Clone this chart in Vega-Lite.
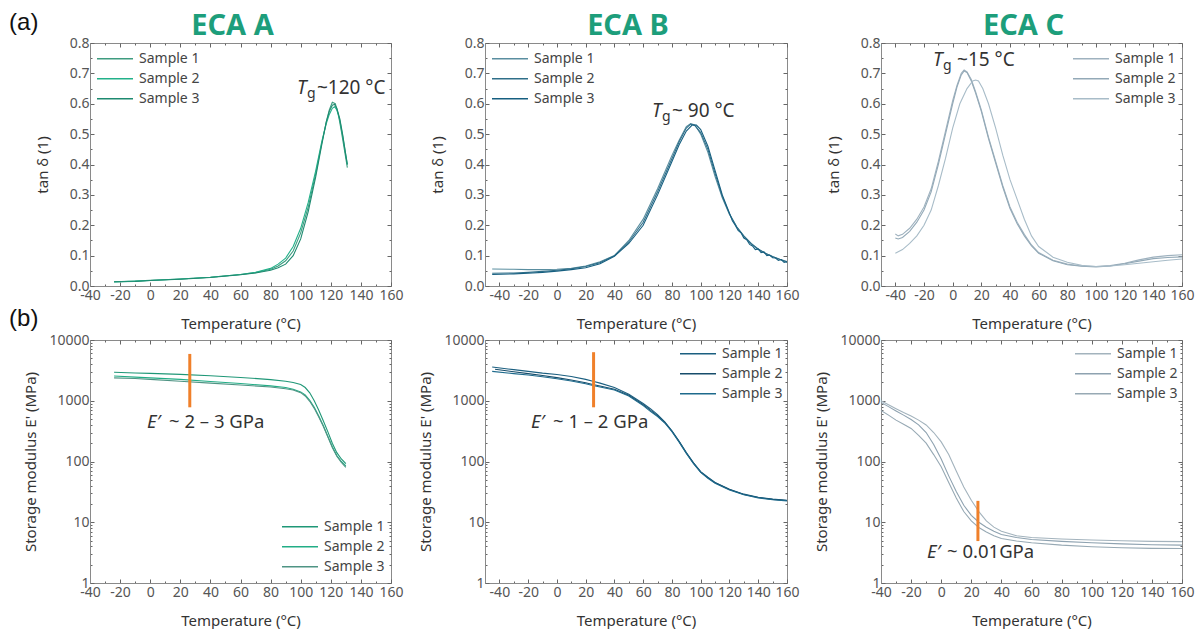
{
 "$schema": "https://vega.github.io/schema/vega-lite/v6.json",
 "background": "white",
 "padding": {"left": 8, "top": 10, "right": 0, "bottom": 0},
 "bounds": "flush",
 "columns": 3,
 "spacing": {"row": 54, "column": 94},
 "datasets": {
  "aTan": [
   {"s":"Sample 1","t":-24,"v":0.014},{"s":"Sample 1","t":-10,"v":0.016},{"s":"Sample 1","t":0,"v":0.019},{"s":"Sample 1","t":20,"v":0.023},{"s":"Sample 1","t":40,"v":0.029},{"s":"Sample 1","t":60,"v":0.038},{"s":"Sample 1","t":70,"v":0.044},{"s":"Sample 1","t":80,"v":0.055},{"s":"Sample 1","t":85,"v":0.066},{"s":"Sample 1","t":90,"v":0.083},{"s":"Sample 1","t":95,"v":0.115},{"s":"Sample 1","t":100,"v":0.175},{"s":"Sample 1","t":105,"v":0.26},{"s":"Sample 1","t":110,"v":0.37},{"s":"Sample 1","t":114,"v":0.47},{"s":"Sample 1","t":117,"v":0.54},{"s":"Sample 1","t":119,"v":0.58},{"s":"Sample 1","t":121,"v":0.605},{"s":"Sample 1","t":123,"v":0.6},{"s":"Sample 1","t":125,"v":0.565},{"s":"Sample 1","t":127,"v":0.51},{"s":"Sample 1","t":129,"v":0.45},{"s":"Sample 1","t":131,"v":0.39},
   {"s":"Sample 2","t":-24,"v":0.013},{"s":"Sample 2","t":-10,"v":0.016},{"s":"Sample 2","t":0,"v":0.018},{"s":"Sample 2","t":20,"v":0.023},{"s":"Sample 2","t":40,"v":0.029},{"s":"Sample 2","t":60,"v":0.038},{"s":"Sample 2","t":70,"v":0.045},{"s":"Sample 2","t":80,"v":0.058},{"s":"Sample 2","t":85,"v":0.072},{"s":"Sample 2","t":90,"v":0.092},{"s":"Sample 2","t":95,"v":0.13},{"s":"Sample 2","t":100,"v":0.19},{"s":"Sample 2","t":105,"v":0.275},{"s":"Sample 2","t":110,"v":0.38},{"s":"Sample 2","t":114,"v":0.475},{"s":"Sample 2","t":117,"v":0.535},{"s":"Sample 2","t":119,"v":0.565},{"s":"Sample 2","t":121,"v":0.585},{"s":"Sample 2","t":122.5,"v":0.59},{"s":"Sample 2","t":124,"v":0.58},{"s":"Sample 2","t":126,"v":0.545},{"s":"Sample 2","t":128,"v":0.49},{"s":"Sample 2","t":130,"v":0.43},{"s":"Sample 2","t":131,"v":0.4},
   {"s":"Sample 3","t":-24,"v":0.014},{"s":"Sample 3","t":-10,"v":0.015},{"s":"Sample 3","t":0,"v":0.018},{"s":"Sample 3","t":20,"v":0.022},{"s":"Sample 3","t":40,"v":0.028},{"s":"Sample 3","t":60,"v":0.037},{"s":"Sample 3","t":70,"v":0.043},{"s":"Sample 3","t":80,"v":0.052},{"s":"Sample 3","t":85,"v":0.06},{"s":"Sample 3","t":90,"v":0.072},{"s":"Sample 3","t":95,"v":0.1},{"s":"Sample 3","t":100,"v":0.155},{"s":"Sample 3","t":105,"v":0.245},{"s":"Sample 3","t":110,"v":0.36},{"s":"Sample 3","t":114,"v":0.465},{"s":"Sample 3","t":117,"v":0.54},{"s":"Sample 3","t":119,"v":0.575},{"s":"Sample 3","t":121,"v":0.595},{"s":"Sample 3","t":122.5,"v":0.598},{"s":"Sample 3","t":124,"v":0.585},{"s":"Sample 3","t":126,"v":0.55},{"s":"Sample 3","t":128,"v":0.495},{"s":"Sample 3","t":130,"v":0.43},{"s":"Sample 3","t":131,"v":0.4}
  ],
  "bTan": [
   {"s":"Sample 1","t":-45,"v":0.056},{"s":"Sample 1","t":-30,"v":0.055},{"s":"Sample 1","t":-20,"v":0.054},{"s":"Sample 1","t":-10,"v":0.054},{"s":"Sample 1","t":0,"v":0.055},{"s":"Sample 1","t":10,"v":0.058},{"s":"Sample 1","t":20,"v":0.066},{"s":"Sample 1","t":30,"v":0.08},{"s":"Sample 1","t":40,"v":0.1},{"s":"Sample 1","t":50,"v":0.15},{"s":"Sample 1","t":60,"v":0.22},{"s":"Sample 1","t":70,"v":0.32},{"s":"Sample 1","t":80,"v":0.43},{"s":"Sample 1","t":85,"v":0.48},{"s":"Sample 1","t":90,"v":0.525},{"s":"Sample 1","t":93,"v":0.535},{"s":"Sample 1","t":96,"v":0.53},{"s":"Sample 1","t":100,"v":0.5},{"s":"Sample 1","t":105,"v":0.44},{"s":"Sample 1","t":110,"v":0.36},{"s":"Sample 1","t":115,"v":0.29},{"s":"Sample 1","t":120,"v":0.235},{"s":"Sample 1","t":125,"v":0.195},{"s":"Sample 1","t":130,"v":0.163},{"s":"Sample 1","t":135,"v":0.14},{"s":"Sample 1","t":140,"v":0.12},{"s":"Sample 1","t":145,"v":0.107},{"s":"Sample 1","t":150,"v":0.096},{"s":"Sample 1","t":155,"v":0.087},{"s":"Sample 1","t":160,"v":0.078},{"s":"Sample 1","t":164,"v":0.073},
   {"s":"Sample 2","t":-45,"v":0.042},{"s":"Sample 2","t":-30,"v":0.043},{"s":"Sample 2","t":-20,"v":0.045},{"s":"Sample 2","t":-10,"v":0.048},{"s":"Sample 2","t":0,"v":0.052},{"s":"Sample 2","t":10,"v":0.057},{"s":"Sample 2","t":20,"v":0.064},{"s":"Sample 2","t":30,"v":0.077},{"s":"Sample 2","t":40,"v":0.1},{"s":"Sample 2","t":50,"v":0.145},{"s":"Sample 2","t":60,"v":0.21},{"s":"Sample 2","t":70,"v":0.31},{"s":"Sample 2","t":80,"v":0.42},{"s":"Sample 2","t":85,"v":0.475},{"s":"Sample 2","t":90,"v":0.52},{"s":"Sample 2","t":93,"v":0.533},{"s":"Sample 2","t":96,"v":0.528},{"s":"Sample 2","t":100,"v":0.505},{"s":"Sample 2","t":105,"v":0.45},{"s":"Sample 2","t":110,"v":0.37},{"s":"Sample 2","t":115,"v":0.295},{"s":"Sample 2","t":120,"v":0.238},{"s":"Sample 2","t":125,"v":0.195},{"s":"Sample 2","t":130,"v":0.165},{"s":"Sample 2","t":135,"v":0.14},{"s":"Sample 2","t":140,"v":0.122},{"s":"Sample 2","t":145,"v":0.108},{"s":"Sample 2","t":150,"v":0.097},{"s":"Sample 2","t":155,"v":0.088},{"s":"Sample 2","t":160,"v":0.08},{"s":"Sample 2","t":164,"v":0.074},
   {"s":"Sample 3","t":-45,"v":0.038},{"s":"Sample 3","t":-30,"v":0.04},{"s":"Sample 3","t":-20,"v":0.042},{"s":"Sample 3","t":-10,"v":0.045},{"s":"Sample 3","t":0,"v":0.049},{"s":"Sample 3","t":10,"v":0.054},{"s":"Sample 3","t":20,"v":0.06},{"s":"Sample 3","t":30,"v":0.073},{"s":"Sample 3","t":40,"v":0.098},{"s":"Sample 3","t":50,"v":0.14},{"s":"Sample 3","t":60,"v":0.2},{"s":"Sample 3","t":70,"v":0.3},{"s":"Sample 3","t":80,"v":0.41},{"s":"Sample 3","t":85,"v":0.465},{"s":"Sample 3","t":90,"v":0.51},{"s":"Sample 3","t":94,"v":0.53},{"s":"Sample 3","t":97,"v":0.53},{"s":"Sample 3","t":100,"v":0.515},{"s":"Sample 3","t":105,"v":0.46},{"s":"Sample 3","t":110,"v":0.38},{"s":"Sample 3","t":115,"v":0.3},{"s":"Sample 3","t":120,"v":0.24},{"s":"Sample 3","t":122,"v":0.215},{"s":"Sample 3","t":124,"v":0.2},{"s":"Sample 3","t":126,"v":0.183},{"s":"Sample 3","t":128,"v":0.175},{"s":"Sample 3","t":130,"v":0.158},{"s":"Sample 3","t":132,"v":0.152},{"s":"Sample 3","t":134,"v":0.137},{"s":"Sample 3","t":136,"v":0.132},{"s":"Sample 3","t":138,"v":0.12},{"s":"Sample 3","t":140,"v":0.122},{"s":"Sample 3","t":142,"v":0.11},{"s":"Sample 3","t":144,"v":0.112},{"s":"Sample 3","t":146,"v":0.1},{"s":"Sample 3","t":148,"v":0.102},{"s":"Sample 3","t":150,"v":0.093},{"s":"Sample 3","t":152,"v":0.092},{"s":"Sample 3","t":154,"v":0.084},{"s":"Sample 3","t":156,"v":0.087},{"s":"Sample 3","t":158,"v":0.078},{"s":"Sample 3","t":160,"v":0.08},{"s":"Sample 3","t":162,"v":0.071},{"s":"Sample 3","t":164,"v":0.074}
  ],
  "cTan": [
   {"s":"Sample 1","t":-40,"v":0.171},{"s":"Sample 1","t":-38,"v":0.165},{"s":"Sample 1","t":-35,"v":0.17},{"s":"Sample 1","t":-30,"v":0.19},{"s":"Sample 1","t":-25,"v":0.22},{"s":"Sample 1","t":-20,"v":0.26},{"s":"Sample 1","t":-15,"v":0.32},{"s":"Sample 1","t":-10,"v":0.41},{"s":"Sample 1","t":-5,"v":0.51},{"s":"Sample 1","t":0,"v":0.61},{"s":"Sample 1","t":3,"v":0.66},{"s":"Sample 1","t":6,"v":0.7},{"s":"Sample 1","t":8,"v":0.711},{"s":"Sample 1","t":10,"v":0.705},{"s":"Sample 1","t":13,"v":0.68},{"s":"Sample 1","t":16,"v":0.64},{"s":"Sample 1","t":20,"v":0.58},{"s":"Sample 1","t":25,"v":0.49},{"s":"Sample 1","t":30,"v":0.41},{"s":"Sample 1","t":35,"v":0.33},{"s":"Sample 1","t":40,"v":0.26},{"s":"Sample 1","t":45,"v":0.21},{"s":"Sample 1","t":50,"v":0.17},{"s":"Sample 1","t":55,"v":0.135},{"s":"Sample 1","t":60,"v":0.11},{"s":"Sample 1","t":70,"v":0.085},{"s":"Sample 1","t":80,"v":0.072},{"s":"Sample 1","t":90,"v":0.066},{"s":"Sample 1","t":100,"v":0.064},{"s":"Sample 1","t":110,"v":0.067},{"s":"Sample 1","t":120,"v":0.075},{"s":"Sample 1","t":130,"v":0.086},{"s":"Sample 1","t":140,"v":0.095},{"s":"Sample 1","t":150,"v":0.1},{"s":"Sample 1","t":160,"v":0.103},
   {"s":"Sample 2","t":-40,"v":0.158},{"s":"Sample 2","t":-38,"v":0.155},{"s":"Sample 2","t":-35,"v":0.16},{"s":"Sample 2","t":-30,"v":0.18},{"s":"Sample 2","t":-25,"v":0.21},{"s":"Sample 2","t":-20,"v":0.25},{"s":"Sample 2","t":-15,"v":0.31},{"s":"Sample 2","t":-10,"v":0.4},{"s":"Sample 2","t":-5,"v":0.5},{"s":"Sample 2","t":0,"v":0.6},{"s":"Sample 2","t":3,"v":0.655},{"s":"Sample 2","t":6,"v":0.695},{"s":"Sample 2","t":8,"v":0.708},{"s":"Sample 2","t":10,"v":0.703},{"s":"Sample 2","t":13,"v":0.675},{"s":"Sample 2","t":16,"v":0.635},{"s":"Sample 2","t":20,"v":0.575},{"s":"Sample 2","t":25,"v":0.485},{"s":"Sample 2","t":30,"v":0.405},{"s":"Sample 2","t":35,"v":0.325},{"s":"Sample 2","t":40,"v":0.255},{"s":"Sample 2","t":45,"v":0.205},{"s":"Sample 2","t":50,"v":0.165},{"s":"Sample 2","t":55,"v":0.132},{"s":"Sample 2","t":60,"v":0.108},{"s":"Sample 2","t":70,"v":0.083},{"s":"Sample 2","t":80,"v":0.07},{"s":"Sample 2","t":90,"v":0.065},{"s":"Sample 2","t":100,"v":0.063},{"s":"Sample 2","t":110,"v":0.066},{"s":"Sample 2","t":120,"v":0.073},{"s":"Sample 2","t":130,"v":0.082},{"s":"Sample 2","t":140,"v":0.09},{"s":"Sample 2","t":150,"v":0.094},{"s":"Sample 2","t":160,"v":0.096},
   {"s":"Sample 3","t":-40,"v":0.108},{"s":"Sample 3","t":-35,"v":0.12},{"s":"Sample 3","t":-30,"v":0.14},{"s":"Sample 3","t":-25,"v":0.165},{"s":"Sample 3","t":-20,"v":0.2},{"s":"Sample 3","t":-15,"v":0.25},{"s":"Sample 3","t":-10,"v":0.33},{"s":"Sample 3","t":-5,"v":0.42},{"s":"Sample 3","t":0,"v":0.52},{"s":"Sample 3","t":5,"v":0.6},{"s":"Sample 3","t":10,"v":0.65},{"s":"Sample 3","t":14,"v":0.675},{"s":"Sample 3","t":16,"v":0.678},{"s":"Sample 3","t":18,"v":0.675},{"s":"Sample 3","t":21,"v":0.65},{"s":"Sample 3","t":25,"v":0.6},{"s":"Sample 3","t":30,"v":0.52},{"s":"Sample 3","t":35,"v":0.43},{"s":"Sample 3","t":40,"v":0.35},{"s":"Sample 3","t":45,"v":0.285},{"s":"Sample 3","t":50,"v":0.22},{"s":"Sample 3","t":55,"v":0.165},{"s":"Sample 3","t":60,"v":0.13},{"s":"Sample 3","t":70,"v":0.095},{"s":"Sample 3","t":80,"v":0.078},{"s":"Sample 3","t":90,"v":0.068},{"s":"Sample 3","t":100,"v":0.064},{"s":"Sample 3","t":110,"v":0.066},{"s":"Sample 3","t":120,"v":0.07},{"s":"Sample 3","t":130,"v":0.075},{"s":"Sample 3","t":140,"v":0.08},{"s":"Sample 3","t":150,"v":0.085},{"s":"Sample 3","t":160,"v":0.089}
  ],
  "aMod": [
   {"s":"Sample 1","t":-24,"v":2950},{"s":"Sample 1","t":-10,"v":2870},{"s":"Sample 1","t":0,"v":2820},{"s":"Sample 1","t":20,"v":2720},{"s":"Sample 1","t":40,"v":2580},{"s":"Sample 1","t":60,"v":2420},{"s":"Sample 1","t":80,"v":2230},{"s":"Sample 1","t":90,"v":2100},{"s":"Sample 1","t":95,"v":2000},{"s":"Sample 1","t":100,"v":1850},{"s":"Sample 1","t":103,"v":1650},{"s":"Sample 1","t":106,"v":1350},{"s":"Sample 1","t":109,"v":1000},{"s":"Sample 1","t":112,"v":700},{"s":"Sample 1","t":115,"v":470},{"s":"Sample 1","t":118,"v":310},{"s":"Sample 1","t":121,"v":200},{"s":"Sample 1","t":124,"v":140},{"s":"Sample 1","t":127,"v":110},{"s":"Sample 1","t":130,"v":92},
   {"s":"Sample 2","t":-24,"v":2550},{"s":"Sample 2","t":-10,"v":2450},{"s":"Sample 2","t":0,"v":2380},{"s":"Sample 2","t":20,"v":2250},{"s":"Sample 2","t":40,"v":2080},{"s":"Sample 2","t":60,"v":1920},{"s":"Sample 2","t":80,"v":1760},{"s":"Sample 2","t":90,"v":1650},{"s":"Sample 2","t":95,"v":1550},{"s":"Sample 2","t":100,"v":1400},{"s":"Sample 2","t":103,"v":1250},{"s":"Sample 2","t":106,"v":1020},{"s":"Sample 2","t":109,"v":780},{"s":"Sample 2","t":112,"v":560},{"s":"Sample 2","t":115,"v":390},{"s":"Sample 2","t":118,"v":260},{"s":"Sample 2","t":121,"v":175},{"s":"Sample 2","t":124,"v":125},{"s":"Sample 2","t":127,"v":100},{"s":"Sample 2","t":130,"v":85},
   {"s":"Sample 3","t":-24,"v":2380},{"s":"Sample 3","t":-10,"v":2330},{"s":"Sample 3","t":0,"v":2250},{"s":"Sample 3","t":20,"v":2100},{"s":"Sample 3","t":40,"v":1950},{"s":"Sample 3","t":60,"v":1820},{"s":"Sample 3","t":80,"v":1680},{"s":"Sample 3","t":90,"v":1580},{"s":"Sample 3","t":95,"v":1500},{"s":"Sample 3","t":100,"v":1360},{"s":"Sample 3","t":103,"v":1200},{"s":"Sample 3","t":106,"v":980},{"s":"Sample 3","t":109,"v":750},{"s":"Sample 3","t":112,"v":540},{"s":"Sample 3","t":115,"v":380},{"s":"Sample 3","t":118,"v":255},{"s":"Sample 3","t":121,"v":170},{"s":"Sample 3","t":124,"v":122},{"s":"Sample 3","t":127,"v":97},{"s":"Sample 3","t":130,"v":80}
  ],
  "bMod": [
   {"s":"Sample 1","t":-45,"v":3600},{"s":"Sample 1","t":-30,"v":3250},{"s":"Sample 1","t":-20,"v":3050},{"s":"Sample 1","t":-10,"v":2850},{"s":"Sample 1","t":0,"v":2700},{"s":"Sample 1","t":10,"v":2500},{"s":"Sample 1","t":20,"v":2250},{"s":"Sample 1","t":25,"v":2100},{"s":"Sample 1","t":30,"v":1950},{"s":"Sample 1","t":40,"v":1650},{"s":"Sample 1","t":50,"v":1280},{"s":"Sample 1","t":60,"v":900},{"s":"Sample 1","t":65,"v":740},{"s":"Sample 1","t":70,"v":590},{"s":"Sample 1","t":75,"v":450},{"s":"Sample 1","t":80,"v":320},{"s":"Sample 1","t":85,"v":215},{"s":"Sample 1","t":90,"v":140},{"s":"Sample 1","t":95,"v":95},{"s":"Sample 1","t":100,"v":68},{"s":"Sample 1","t":105,"v":55},{"s":"Sample 1","t":110,"v":45},{"s":"Sample 1","t":120,"v":35},{"s":"Sample 1","t":130,"v":29},{"s":"Sample 1","t":140,"v":25.8},{"s":"Sample 1","t":150,"v":24},{"s":"Sample 1","t":160,"v":23},{"s":"Sample 1","t":164,"v":22.5},
   {"s":"Sample 2","t":-43,"v":3300},{"s":"Sample 2","t":-30,"v":3000},{"s":"Sample 2","t":-20,"v":2800},{"s":"Sample 2","t":-10,"v":2600},{"s":"Sample 2","t":0,"v":2400},{"s":"Sample 2","t":10,"v":2200},{"s":"Sample 2","t":20,"v":1980},{"s":"Sample 2","t":25,"v":1850},{"s":"Sample 2","t":30,"v":1750},{"s":"Sample 2","t":40,"v":1550},{"s":"Sample 2","t":50,"v":1230},{"s":"Sample 2","t":60,"v":860},{"s":"Sample 2","t":65,"v":700},{"s":"Sample 2","t":70,"v":570},{"s":"Sample 2","t":75,"v":440},{"s":"Sample 2","t":80,"v":315},{"s":"Sample 2","t":85,"v":212},{"s":"Sample 2","t":90,"v":138},{"s":"Sample 2","t":95,"v":94},{"s":"Sample 2","t":100,"v":67},{"s":"Sample 2","t":105,"v":54},{"s":"Sample 2","t":110,"v":44.5},{"s":"Sample 2","t":120,"v":34.5},{"s":"Sample 2","t":130,"v":28.7},{"s":"Sample 2","t":140,"v":25.5},{"s":"Sample 2","t":150,"v":23.8},{"s":"Sample 2","t":160,"v":22.8},{"s":"Sample 2","t":164,"v":22.3},
   {"s":"Sample 3","t":-45,"v":3050},{"s":"Sample 3","t":-30,"v":2800},{"s":"Sample 3","t":-20,"v":2650},{"s":"Sample 3","t":-10,"v":2480},{"s":"Sample 3","t":0,"v":2300},{"s":"Sample 3","t":10,"v":2120},{"s":"Sample 3","t":20,"v":1900},{"s":"Sample 3","t":25,"v":1780},{"s":"Sample 3","t":30,"v":1680},{"s":"Sample 3","t":40,"v":1500},{"s":"Sample 3","t":50,"v":1200},{"s":"Sample 3","t":60,"v":830},{"s":"Sample 3","t":65,"v":670},{"s":"Sample 3","t":70,"v":550},{"s":"Sample 3","t":75,"v":430},{"s":"Sample 3","t":80,"v":310},{"s":"Sample 3","t":85,"v":208},{"s":"Sample 3","t":90,"v":136},{"s":"Sample 3","t":95,"v":92},{"s":"Sample 3","t":100,"v":66},{"s":"Sample 3","t":105,"v":53},{"s":"Sample 3","t":110,"v":44},{"s":"Sample 3","t":120,"v":34},{"s":"Sample 3","t":130,"v":28.3},{"s":"Sample 3","t":140,"v":25.2},{"s":"Sample 3","t":150,"v":23.5},{"s":"Sample 3","t":160,"v":22.5},{"s":"Sample 3","t":164,"v":22}
  ],
  "cMod": [
   {"s":"Sample 1","t":-40,"v":1000},{"s":"Sample 1","t":-35,"v":860},{"s":"Sample 1","t":-30,"v":740},{"s":"Sample 1","t":-25,"v":640},{"s":"Sample 1","t":-20,"v":560},{"s":"Sample 1","t":-15,"v":480},{"s":"Sample 1","t":-10,"v":400},{"s":"Sample 1","t":-5,"v":300},{"s":"Sample 1","t":0,"v":210},{"s":"Sample 1","t":5,"v":130},{"s":"Sample 1","t":10,"v":70},{"s":"Sample 1","t":15,"v":38},{"s":"Sample 1","t":20,"v":23},{"s":"Sample 1","t":25,"v":15},{"s":"Sample 1","t":30,"v":10.5},{"s":"Sample 1","t":35,"v":8.3},{"s":"Sample 1","t":40,"v":7.1},{"s":"Sample 1","t":50,"v":6},{"s":"Sample 1","t":60,"v":5.6},{"s":"Sample 1","t":80,"v":5.3},{"s":"Sample 1","t":100,"v":5.1},{"s":"Sample 1","t":120,"v":4.95},{"s":"Sample 1","t":140,"v":4.85},{"s":"Sample 1","t":160,"v":4.8},
   {"s":"Sample 2","t":-40,"v":940},{"s":"Sample 2","t":-35,"v":800},{"s":"Sample 2","t":-30,"v":680},{"s":"Sample 2","t":-25,"v":580},{"s":"Sample 2","t":-20,"v":490},{"s":"Sample 2","t":-15,"v":400},{"s":"Sample 2","t":-10,"v":300},{"s":"Sample 2","t":-5,"v":190},{"s":"Sample 2","t":0,"v":110},{"s":"Sample 2","t":5,"v":58},{"s":"Sample 2","t":10,"v":32},{"s":"Sample 2","t":15,"v":19},{"s":"Sample 2","t":20,"v":13},{"s":"Sample 2","t":25,"v":10},{"s":"Sample 2","t":30,"v":8.3},{"s":"Sample 2","t":35,"v":7.1},{"s":"Sample 2","t":40,"v":6.3},{"s":"Sample 2","t":50,"v":5.6},{"s":"Sample 2","t":60,"v":5.2},{"s":"Sample 2","t":80,"v":4.85},{"s":"Sample 2","t":100,"v":4.6},{"s":"Sample 2","t":120,"v":4.4},{"s":"Sample 2","t":140,"v":4.25},{"s":"Sample 2","t":160,"v":4.2},
   {"s":"Sample 3","t":-40,"v":690},{"s":"Sample 3","t":-35,"v":580},{"s":"Sample 3","t":-30,"v":480},{"s":"Sample 3","t":-25,"v":410},{"s":"Sample 3","t":-20,"v":350},{"s":"Sample 3","t":-15,"v":270},{"s":"Sample 3","t":-10,"v":200},{"s":"Sample 3","t":-5,"v":130},{"s":"Sample 3","t":0,"v":82},{"s":"Sample 3","t":5,"v":45},{"s":"Sample 3","t":10,"v":25},{"s":"Sample 3","t":15,"v":15},{"s":"Sample 3","t":20,"v":10.5},{"s":"Sample 3","t":25,"v":8.2},{"s":"Sample 3","t":30,"v":6.9},{"s":"Sample 3","t":35,"v":6},{"s":"Sample 3","t":40,"v":5.4},{"s":"Sample 3","t":50,"v":4.9},{"s":"Sample 3","t":60,"v":4.6},{"s":"Sample 3","t":80,"v":4.2},{"s":"Sample 3","t":100,"v":3.95},{"s":"Sample 3","t":120,"v":3.8},{"s":"Sample 3","t":140,"v":3.72},{"s":"Sample 3","t":160,"v":3.7}
  ]
 },
 "concat": [
    {
     "width": 301, "height": 243,
     "title": {"text": "ECA A", "dx": -8},
     "encoding": {
      "x": {"field": "t", "type": "quantitative", "scale": {"domain": [-40, 160], "nice": false, "zero": false}, "axis": null},
      "y": {"field": "v", "type": "quantitative", "scale": {"domain": [0, 0.8], "nice": false, "zero": false}, "axis": null}
     },
     "layer": [
      {"data": {"name": "aTan"}, "mark": {"type": "line", "strokeWidth": 1.1},
       "encoding": {
        "x": {"field": "t", "type": "quantitative", "scale": {"domain": [-40, 160], "nice": false, "zero": false}, "axis": {"orient": "bottom", "title": "Temperature (°C)", "values": [-40,-30,-20,-10,0,10,20,30,40,50,60,70,80,90,100,110,120,130,140,150,160], "labelExpr": "datum.value % 20 === 0 ? '' + datum.value : ''", "tickSize": {"condition": {"test": "datum.value % 20 === 0", "value": -4}, "value": -2}}},
        "y": {"field": "v", "type": "quantitative", "scale": {"domain": [0, 0.8], "nice": false, "zero": false}, "axis": {"orient": "left", "title": "tan δ (1)", "values": [0,0.05,0.1,0.15,0.2,0.25,0.3,0.35,0.4,0.45,0.5,0.55,0.6,0.65,0.7,0.75,0.8], "labelExpr": "abs(datum.value*10 - round(datum.value*10)) < 0.001 ? format(datum.value, '.1f') : ''", "tickSize": {"condition": {"test": "abs(datum.value*10 - round(datum.value*10)) < 0.001", "value": -4}, "value": -2}, "titlePadding": 19}},
        "color": {"field": "s", "type": "nominal", "scale": {"domain": ["Sample 1","Sample 2","Sample 3"], "range": ["#3f9c80","#23b18a","#1e8a70"]}, "legend": {"orient": "top-left", "offset": 6}}}},
      {"data": {"values": [{"t": 50, "v": 0.4}]}, "mark": {"type": "point", "opacity": 0},
       "encoding": {
        "x": {"field": "t", "type": "quantitative", "scale": {"domain": [-40, 160], "nice": false, "zero": false}, "axis": {"orient": "top", "labels": false, "title": null, "domain": false, "values": [-40,-30,-20,-10,0,10,20,30,40,50,60,70,80,90,100,110,120,130,140,150,160], "tickSize": {"condition": {"test": "datum.value % 20 === 0", "value": -4}, "value": -2}}},
        "y": {"field": "v", "type": "quantitative", "scale": {"domain": [0, 0.8], "nice": false, "zero": false}, "axis": {"orient": "right", "labels": false, "title": null, "domain": false, "values": [0,0.05,0.1,0.15,0.2,0.25,0.3,0.35,0.4,0.45,0.5,0.55,0.6,0.65,0.7,0.75,0.8], "tickSize": {"condition": {"test": "abs(datum.value*10 - round(datum.value*10)) < 0.001", "value": -4}, "value": -2}}}}},
      {"data": {"values": [{"t": 97.5, "v": 0.632}]}, "mark": {"type": "text", "text": "T", "fontStyle": "italic", "fontSize": 19, "align": "left", "baseline": "alphabetic", "color": "#333"}},
      {"data": {"values": [{"t": 97.5, "v": 0.632}]}, "mark": {"type": "text", "text": "g", "fontSize": 14, "dx": 10, "dy": 4, "align": "left", "baseline": "alphabetic", "color": "#333"}},
      {"data": {"values": [{"t": 97.5, "v": 0.632}]}, "mark": {"type": "text", "text": "~120 °C", "fontSize": 19, "dx": 20, "align": "left", "baseline": "alphabetic", "color": "#333"}}
     ]
    },
    {
     "width": 302, "height": 243,
     "title": {"text": "ECA B", "dx": -8},
     "encoding": {
      "x": {"field": "t", "type": "quantitative", "scale": {"domain": [-50, 160], "nice": false, "zero": false}, "axis": null},
      "y": {"field": "v", "type": "quantitative", "scale": {"domain": [0, 0.8], "nice": false, "zero": false}, "axis": null}
     },
     "layer": [
      {"data": {"name": "bTan"}, "mark": {"type": "line", "strokeWidth": 1.1, "clip": true},
       "encoding": {
        "x": {"field": "t", "type": "quantitative", "scale": {"domain": [-50, 160], "nice": false, "zero": false}, "axis": {"orient": "bottom", "title": "Temperature (°C)", "values": [-50,-40,-30,-20,-10,0,10,20,30,40,50,60,70,80,90,100,110,120,130,140,150,160], "labelExpr": "datum.value % 20 === 0 ? '' + datum.value : ''", "tickSize": {"condition": {"test": "datum.value % 20 === 0", "value": -4}, "value": -2}}},
        "y": {"field": "v", "type": "quantitative", "scale": {"domain": [0, 0.8], "nice": false, "zero": false}, "axis": {"orient": "left", "title": "tan δ (1)", "values": [0,0.05,0.1,0.15,0.2,0.25,0.3,0.35,0.4,0.45,0.5,0.55,0.6,0.65,0.7,0.75,0.8], "labelExpr": "abs(datum.value*10 - round(datum.value*10)) < 0.001 ? format(datum.value, '.1f') : ''", "tickSize": {"condition": {"test": "abs(datum.value*10 - round(datum.value*10)) < 0.001", "value": -4}, "value": -2}, "titlePadding": 19}},
        "color": {"field": "s", "type": "nominal", "scale": {"domain": ["Sample 1","Sample 2","Sample 3"], "range": ["#5a8ea0","#2f6f89","#165f80"]}, "legend": {"orient": "top-left", "offset": 6}}}},
      {"data": {"values": [{"t": 50, "v": 0.4}]}, "mark": {"type": "point", "opacity": 0},
       "encoding": {
        "x": {"field": "t", "type": "quantitative", "scale": {"domain": [-50, 160], "nice": false, "zero": false}, "axis": {"orient": "top", "labels": false, "title": null, "domain": false, "values": [-50,-40,-30,-20,-10,0,10,20,30,40,50,60,70,80,90,100,110,120,130,140,150,160], "tickSize": {"condition": {"test": "datum.value % 20 === 0", "value": -4}, "value": -2}}},
        "y": {"field": "v", "type": "quantitative", "scale": {"domain": [0, 0.8], "nice": false, "zero": false}, "axis": {"orient": "right", "labels": false, "title": null, "domain": false, "values": [0,0.05,0.1,0.15,0.2,0.25,0.3,0.35,0.4,0.45,0.5,0.55,0.6,0.65,0.7,0.75,0.8], "tickSize": {"condition": {"test": "abs(datum.value*10 - round(datum.value*10)) < 0.001", "value": -4}, "value": -2}}}}},
      {"data": {"values": [{"t": 66.1, "v": 0.556}]}, "mark": {"type": "text", "text": "T", "fontStyle": "italic", "fontSize": 19, "align": "left", "baseline": "alphabetic", "color": "#333"}},
      {"data": {"values": [{"t": 66.1, "v": 0.556}]}, "mark": {"type": "text", "text": "g", "fontSize": 14, "dx": 10, "dy": 4, "align": "left", "baseline": "alphabetic", "color": "#333"}},
      {"data": {"values": [{"t": 66.1, "v": 0.556}]}, "mark": {"type": "text", "text": "~ 90 °C", "fontSize": 19, "dx": 20, "align": "left", "baseline": "alphabetic", "color": "#333"}}
     ]
    },
    {
     "width": 301, "height": 243,
     "title": {"text": "ECA C", "dx": -8},
     "encoding": {
      "x": {"field": "t", "type": "quantitative", "scale": {"domain": [-50, 160], "nice": false, "zero": false}, "axis": null},
      "y": {"field": "v", "type": "quantitative", "scale": {"domain": [0, 0.8], "nice": false, "zero": false}, "axis": null}
     },
     "layer": [
      {"data": {"name": "cTan"}, "mark": {"type": "line", "strokeWidth": 1.1},
       "encoding": {
        "x": {"field": "t", "type": "quantitative", "scale": {"domain": [-50, 160], "nice": false, "zero": false}, "axis": {"orient": "bottom", "title": "Temperature (°C)", "values": [-50,-40,-30,-20,-10,0,10,20,30,40,50,60,70,80,90,100,110,120,130,140,150,160], "labelExpr": "datum.value % 20 === 0 ? '' + datum.value : ''", "tickSize": {"condition": {"test": "datum.value % 20 === 0", "value": -4}, "value": -2}}},
        "y": {"field": "v", "type": "quantitative", "scale": {"domain": [0, 0.8], "nice": false, "zero": false}, "axis": {"orient": "left", "title": "tan δ (1)", "values": [0,0.05,0.1,0.15,0.2,0.25,0.3,0.35,0.4,0.45,0.5,0.55,0.6,0.65,0.7,0.75,0.8], "labelExpr": "abs(datum.value*10 - round(datum.value*10)) < 0.001 ? format(datum.value, '.1f') : ''", "tickSize": {"condition": {"test": "abs(datum.value*10 - round(datum.value*10)) < 0.001", "value": -4}, "value": -2}, "titlePadding": 19}},
        "color": {"field": "s", "type": "nominal", "scale": {"domain": ["Sample 1","Sample 2","Sample 3"], "range": ["#9fb2bf","#93a9b7","#a8bcc8"]}, "legend": {"orient": "top-right", "offset": 6}}}},
      {"data": {"values": [{"t": 50, "v": 0.4}]}, "mark": {"type": "point", "opacity": 0},
       "encoding": {
        "x": {"field": "t", "type": "quantitative", "scale": {"domain": [-50, 160], "nice": false, "zero": false}, "axis": {"orient": "top", "labels": false, "title": null, "domain": false, "values": [-50,-40,-30,-20,-10,0,10,20,30,40,50,60,70,80,90,100,110,120,130,140,150,160], "tickSize": {"condition": {"test": "datum.value % 20 === 0", "value": -4}, "value": -2}}},
        "y": {"field": "v", "type": "quantitative", "scale": {"domain": [0, 0.8], "nice": false, "zero": false}, "axis": {"orient": "right", "labels": false, "title": null, "domain": false, "values": [0,0.05,0.1,0.15,0.2,0.25,0.3,0.35,0.4,0.45,0.5,0.55,0.6,0.65,0.7,0.75,0.8], "tickSize": {"condition": {"test": "abs(datum.value*10 - round(datum.value*10)) < 0.001", "value": -4}, "value": -2}}}}},
      {"data": {"values": [{"t": -13.7, "v": 0.724}]}, "mark": {"type": "text", "text": "T", "fontStyle": "italic", "fontSize": 19, "align": "left", "baseline": "alphabetic", "color": "#333"}},
      {"data": {"values": [{"t": -13.7, "v": 0.724}]}, "mark": {"type": "text", "text": "g", "fontSize": 14, "dx": 10, "dy": 4, "align": "left", "baseline": "alphabetic", "color": "#333"}},
      {"data": {"values": [{"t": -13.7, "v": 0.724}]}, "mark": {"type": "text", "text": "~15 °C", "fontSize": 19, "dx": 24, "align": "left", "baseline": "alphabetic", "color": "#333"}}
     ]
    },
    {
     "width": 301, "height": 243,
     "encoding": {
      "x": {"field": "t", "type": "quantitative", "scale": {"domain": [-40, 160], "nice": false, "zero": false}, "axis": null},
      "y": {"field": "v", "type": "quantitative", "scale": {"type": "log", "domain": [1, 10000], "nice": false}, "axis": null}
     },
     "layer": [
      {"data": {"name": "aMod"}, "mark": {"type": "line", "strokeWidth": 1.1},
       "encoding": {
        "x": {"field": "t", "type": "quantitative", "scale": {"domain": [-40, 160], "nice": false, "zero": false}, "axis": {"orient": "bottom", "title": "Temperature (°C)", "values": [-40,-30,-20,-10,0,10,20,30,40,50,60,70,80,90,100,110,120,130,140,150,160], "labelExpr": "datum.value % 20 === 0 ? '' + datum.value : ''", "tickSize": {"condition": {"test": "datum.value % 20 === 0", "value": -4}, "value": -2}}},
        "y": {"field": "v", "type": "quantitative", "scale": {"type": "log", "domain": [1, 10000], "nice": false}, "axis": {"orient": "left", "title": "Storage modulus E' (MPa)", "values": [1,2,3,4,5,6,7,8,9,10,20,30,40,50,60,70,80,90,100,200,300,400,500,600,700,800,900,1000,2000,3000,4000,5000,6000,7000,8000,9000,10000], "labelExpr": "indexof([1,10,100,1000,10000], datum.value) >= 0 ? '' + datum.value : ''", "tickSize": {"condition": {"test": "indexof([1,10,100,1000,10000], datum.value) >= 0", "value": -4}, "value": -2}, "titlePadding": 10}},
        "color": {"field": "s", "type": "nominal", "scale": {"domain": ["Sample 1","Sample 2","Sample 3"], "range": ["#1f9777","#22ad86","#4f9484"]}, "legend": {"orient": "bottom-right", "offset": 6}}}},
      {"data": {"values": [{"t": 50, "v": 100}]}, "mark": {"type": "point", "opacity": 0},
       "encoding": {
        "x": {"field": "t", "type": "quantitative", "scale": {"domain": [-40, 160], "nice": false, "zero": false}, "axis": {"orient": "top", "labels": false, "title": null, "domain": false, "values": [-40,-30,-20,-10,0,10,20,30,40,50,60,70,80,90,100,110,120,130,140,150,160], "tickSize": {"condition": {"test": "datum.value % 20 === 0", "value": -4}, "value": -2}}},
        "y": {"field": "v", "type": "quantitative", "scale": {"type": "log", "domain": [1, 10000], "nice": false}, "axis": {"orient": "right", "labels": false, "title": null, "domain": false, "values": [1,2,3,4,5,6,7,8,9,10,20,30,40,50,60,70,80,90,100,200,300,400,500,600,700,800,900,1000,2000,3000,4000,5000,6000,7000,8000,9000,10000], "tickSize": {"condition": {"test": "indexof([1,10,100,1000,10000], datum.value) >= 0", "value": -4}, "value": -2}}}}},
      {"data": {"values": [{"t": 26.3, "lo": 780, "hi": 5900}]}, "mark": {"type": "rule", "color": "#f0802a", "strokeWidth": 3},
       "encoding": {"y": {"field": "lo", "type": "quantitative", "scale": {"type": "log", "domain": [1, 10000], "nice": false}, "axis": null}, "y2": {"field": "hi"}}},
      {"data": {"values": [{"t": -2.1, "v": 356}]}, "mark": {"type": "text", "text": "E′", "fontStyle": "italic", "fontSize": 18.5, "align": "left", "baseline": "alphabetic", "color": "#333"}},
      {"data": {"values": [{"t": -2.1, "v": 356}]}, "mark": {"type": "text", "text": "~ 2 – 3 GPa", "fontSize": 18.5, "dx": 22, "align": "left", "baseline": "alphabetic", "color": "#333"}},
      {"data": {"values": [{"t": -84, "v": 1.65e9, "label": "(a)"}, {"t": -84, "v": 22180, "label": "(b)"}]}, "mark": {"type": "text", "font": "Liberation Sans", "fontSize": 24, "align": "center", "baseline": "middle", "color": "#111"},
       "encoding": {"text": {"field": "label"}}}
     ]
    },
    {
     "width": 302, "height": 243,
     "encoding": {
      "x": {"field": "t", "type": "quantitative", "scale": {"domain": [-50, 160], "nice": false, "zero": false}, "axis": null},
      "y": {"field": "v", "type": "quantitative", "scale": {"type": "log", "domain": [1, 10000], "nice": false}, "axis": null}
     },
     "layer": [
      {"data": {"name": "bMod"}, "mark": {"type": "line", "strokeWidth": 1.1, "clip": true},
       "encoding": {
        "x": {"field": "t", "type": "quantitative", "scale": {"domain": [-50, 160], "nice": false, "zero": false}, "axis": {"orient": "bottom", "title": "Temperature (°C)", "values": [-50,-40,-30,-20,-10,0,10,20,30,40,50,60,70,80,90,100,110,120,130,140,150,160], "labelExpr": "datum.value % 20 === 0 ? '' + datum.value : ''", "tickSize": {"condition": {"test": "datum.value % 20 === 0", "value": -4}, "value": -2}}},
        "y": {"field": "v", "type": "quantitative", "scale": {"type": "log", "domain": [1, 10000], "nice": false}, "axis": {"orient": "left", "title": "Storage modulus E' (MPa)", "values": [1,2,3,4,5,6,7,8,9,10,20,30,40,50,60,70,80,90,100,200,300,400,500,600,700,800,900,1000,2000,3000,4000,5000,6000,7000,8000,9000,10000], "labelExpr": "indexof([1,10,100,1000,10000], datum.value) >= 0 ? '' + datum.value : ''", "tickSize": {"condition": {"test": "indexof([1,10,100,1000,10000], datum.value) >= 0", "value": -4}, "value": -2}, "titlePadding": 10}},
        "color": {"field": "s", "type": "nominal", "scale": {"domain": ["Sample 1","Sample 2","Sample 3"], "range": ["#1b5f80","#174d6b","#1e6a8c"]}, "legend": {"orient": "top-right", "offset": 4}}}},
      {"data": {"values": [{"t": 50, "v": 100}]}, "mark": {"type": "point", "opacity": 0},
       "encoding": {
        "x": {"field": "t", "type": "quantitative", "scale": {"domain": [-50, 160], "nice": false, "zero": false}, "axis": {"orient": "top", "labels": false, "title": null, "domain": false, "values": [-50,-40,-30,-20,-10,0,10,20,30,40,50,60,70,80,90,100,110,120,130,140,150,160], "tickSize": {"condition": {"test": "datum.value % 20 === 0", "value": -4}, "value": -2}}},
        "y": {"field": "v", "type": "quantitative", "scale": {"type": "log", "domain": [1, 10000], "nice": false}, "axis": {"orient": "right", "labels": false, "title": null, "domain": false, "values": [1,2,3,4,5,6,7,8,9,10,20,30,40,50,60,70,80,90,100,200,300,400,500,600,700,800,900,1000,2000,3000,4000,5000,6000,7000,8000,9000,10000], "tickSize": {"condition": {"test": "indexof([1,10,100,1000,10000], datum.value) >= 0", "value": -4}, "value": -2}}}}},
      {"data": {"values": [{"t": 25.5, "lo": 780, "hi": 6300}]}, "mark": {"type": "rule", "color": "#f0802a", "strokeWidth": 3},
       "encoding": {"y": {"field": "lo", "type": "quantitative", "scale": {"type": "log", "domain": [1, 10000], "nice": false}, "axis": null}, "y2": {"field": "hi"}}},
      {"data": {"values": [{"t": -18, "v": 356}]}, "mark": {"type": "text", "text": "E′", "fontStyle": "italic", "fontSize": 18.5, "align": "left", "baseline": "alphabetic", "color": "#333"}},
      {"data": {"values": [{"t": -18, "v": 356}]}, "mark": {"type": "text", "text": "~ 1 – 2 GPa", "fontSize": 18.5, "dx": 22, "align": "left", "baseline": "alphabetic", "color": "#333"}}
     ]
    },
    {
     "width": 301, "height": 243,
     "encoding": {
      "x": {"field": "t", "type": "quantitative", "scale": {"domain": [-40, 160], "nice": false, "zero": false}, "axis": null},
      "y": {"field": "v", "type": "quantitative", "scale": {"type": "log", "domain": [1, 10000], "nice": false}, "axis": null}
     },
     "layer": [
      {"data": {"name": "cMod"}, "mark": {"type": "line", "strokeWidth": 1.1},
       "encoding": {
        "x": {"field": "t", "type": "quantitative", "scale": {"domain": [-40, 160], "nice": false, "zero": false}, "axis": {"orient": "bottom", "title": "Temperature (°C)", "values": [-40,-30,-20,-10,0,10,20,30,40,50,60,70,80,90,100,110,120,130,140,150,160], "labelExpr": "datum.value % 20 === 0 ? '' + datum.value : ''", "tickSize": {"condition": {"test": "datum.value % 20 === 0", "value": -4}, "value": -2}}},
        "y": {"field": "v", "type": "quantitative", "scale": {"type": "log", "domain": [1, 10000], "nice": false}, "axis": {"orient": "left", "title": "Storage modulus E' (MPa)", "values": [1,2,3,4,5,6,7,8,9,10,20,30,40,50,60,70,80,90,100,200,300,400,500,600,700,800,900,1000,2000,3000,4000,5000,6000,7000,8000,9000,10000], "labelExpr": "indexof([1,10,100,1000,10000], datum.value) >= 0 ? '' + datum.value : ''", "tickSize": {"condition": {"test": "indexof([1,10,100,1000,10000], datum.value) >= 0", "value": -4}, "value": -2}, "titlePadding": 10}},
        "color": {"field": "s", "type": "nominal", "scale": {"domain": ["Sample 1","Sample 2","Sample 3"], "range": ["#a3b3bd","#8ea2b0","#97a9b4"]}, "legend": {"orient": "top-right", "offset": 4}}}},
      {"data": {"values": [{"t": 50, "v": 100}]}, "mark": {"type": "point", "opacity": 0},
       "encoding": {
        "x": {"field": "t", "type": "quantitative", "scale": {"domain": [-40, 160], "nice": false, "zero": false}, "axis": {"orient": "top", "labels": false, "title": null, "domain": false, "values": [-40,-30,-20,-10,0,10,20,30,40,50,60,70,80,90,100,110,120,130,140,150,160], "tickSize": {"condition": {"test": "datum.value % 20 === 0", "value": -4}, "value": -2}}},
        "y": {"field": "v", "type": "quantitative", "scale": {"type": "log", "domain": [1, 10000], "nice": false}, "axis": {"orient": "right", "labels": false, "title": null, "domain": false, "values": [1,2,3,4,5,6,7,8,9,10,20,30,40,50,60,70,80,90,100,200,300,400,500,600,700,800,900,1000,2000,3000,4000,5000,6000,7000,8000,9000,10000], "tickSize": {"condition": {"test": "indexof([1,10,100,1000,10000], datum.value) >= 0", "value": -4}, "value": -2}}}}},
      {"data": {"values": [{"t": 24.4, "lo": 4.9, "hi": 22.5}]}, "mark": {"type": "rule", "color": "#f0802a", "strokeWidth": 3},
       "encoding": {"y": {"field": "lo", "type": "quantitative", "scale": {"type": "log", "domain": [1, 10000], "nice": false}, "axis": null}, "y2": {"field": "hi"}}},
      {"data": {"values": [{"t": -9.4, "v": 2.58}]}, "mark": {"type": "text", "text": "E′", "fontStyle": "italic", "fontSize": 18.5, "align": "left", "baseline": "alphabetic", "color": "#333"}},
      {"data": {"values": [{"t": -9.4, "v": 2.58}]}, "mark": {"type": "text", "text": "~ 0.01GPa", "fontSize": 18.5, "dx": 20, "align": "left", "baseline": "alphabetic", "color": "#333"}}
     ]
    }
 ],
 "resolve": {"scale": {"x": "independent", "y": "independent", "color": "independent"}, "legend": {"color": "independent"}},
 "config": {
  "font": "Noto Sans",
  "view": {"stroke": "#8a8a8a", "strokeWidth": 1},
  "title": {"fontSize": 29, "fontWeight": "bold", "color": "#1d9e7b", "offset": -5, "font": "Noto Sans"},
  "text": {"font": "Noto Sans"},
  "axis": {"labelFont": "Noto Sans", "labelFontSize": 14, "labelColor": "#555", "titleFont": "Noto Sans", "titleFontSize": 15, "titleColor": "#333", "titleFontWeight": "normal", "domainColor": "#8a8a8a", "tickColor": "#666", "grid": false, "labelFlush": false, "labelOverlap": false, "labelPadding": 5, "labelBound": false},
  "axisX": {"titlePadding": 12, "labelPadding": 6},
  "legend": {"title": null, "padding": 0, "symbolType": "stroke", "symbolSize": 1296, "symbolStrokeWidth": 1.3, "labelFont": "Noto Sans", "labelFontSize": 14, "labelColor": "#444", "labelOffset": 5, "rowPadding": 0, "clipHeight": 19.5}
 }
}
